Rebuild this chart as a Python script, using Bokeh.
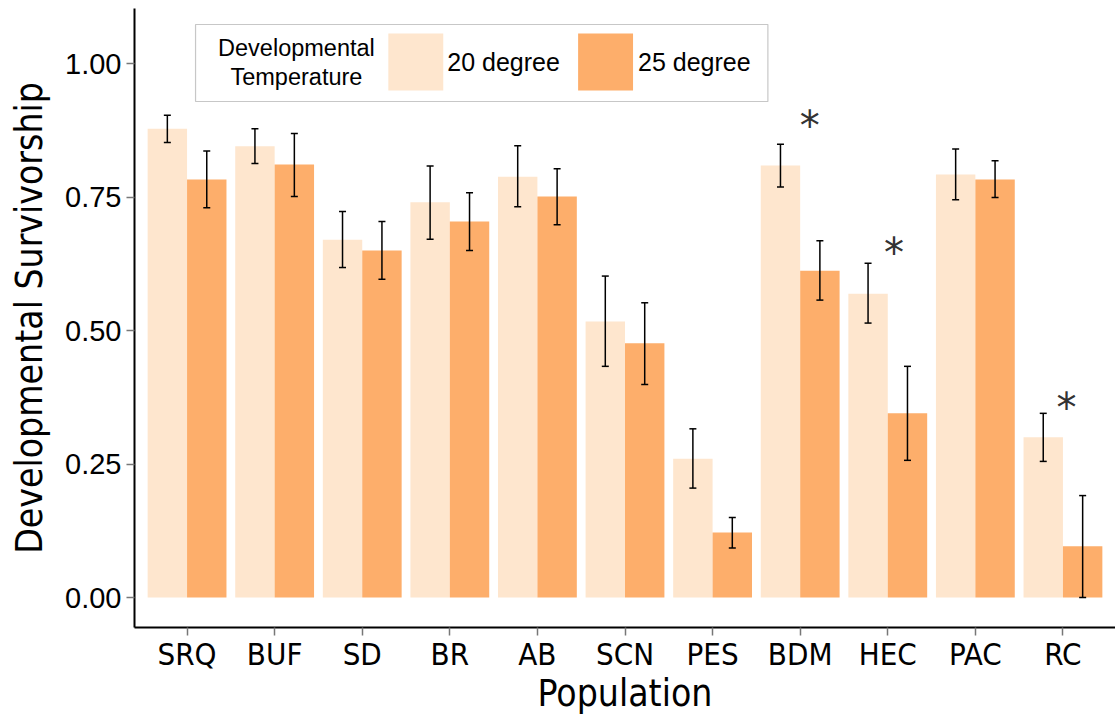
from bokeh.plotting import figure
from bokeh.models import Range1d, FixedTicker, ColumnDataSource, Label, BoxAnnotation
from bokeh.core.properties import value
from bokeh.embed import file_html
from bokeh.resources import INLINE
import numpy as np

populations = ["SRQ", "BUF", "SD", "BR", "AB", "SCN", "PES", "BDM", "HEC", "PAC", "RC"]
surv_20 = [0.878, 0.845, 0.670, 0.740, 0.788, 0.517, 0.260, 0.809, 0.569, 0.792, 0.300]
upper_20 = [0.903, 0.878, 0.723, 0.808, 0.846, 0.602, 0.316, 0.849, 0.626, 0.840, 0.345]
lower_20 = [0.852, 0.813, 0.618, 0.671, 0.732, 0.433, 0.205, 0.769, 0.514, 0.745, 0.255]
surv_25 = [0.783, 0.811, 0.650, 0.704, 0.751, 0.476, 0.122, 0.612, 0.345, 0.783, 0.096]
upper_25 = [0.836, 0.869, 0.704, 0.758, 0.803, 0.552, 0.150, 0.668, 0.433, 0.818, 0.191]
lower_25 = [0.730, 0.751, 0.596, 0.650, 0.698, 0.399, 0.093, 0.557, 0.257, 0.749, 0.000]
sig_pos = [8.11, 9.07, 11.04]
sig_y = [0.897, 0.659, 0.369]
y_ticks = [0.0, 0.25, 0.5, 0.75, 1.0]
y_tick_labels = ["0.00", "0.25", "0.50", "0.75", "1.00"]
series_labels = ["20 degree", "25 degree"]
legend_title = ["Developmental", "Temperature"]
x_title = "Population"
y_title = "Developmental Survivorship"

COL20 = "#FEE6CE"
COL25 = "#FDAE6B"
COND = "'Liberation Sans Narrow', 'DejaVu Sans Condensed', sans-serif"

idx = np.arange(1, len(populations) + 1)
src20 = ColumnDataSource(dict(x=idx - 0.225, top=surv_20, up=upper_20, lo=lower_20))
src25 = ColumnDataSource(dict(x=idx + 0.225, top=surv_25, up=upper_25, lo=lower_25))

p = figure(width=1115, height=721, output_backend="svg", toolbar_location=None,
           x_range=Range1d(0.4, 11.6), y_range=Range1d(-0.056, 1.103),
           min_border_left=134, min_border_right=0, min_border_top=8, min_border_bottom=94)
p.outline_line_color = None
p.xgrid.grid_line_color = None
p.ygrid.grid_line_color = None
p.background_fill_color = "white"
p.border_fill_color = "white"

p.vbar(x="x", top="top", width=0.45, bottom=0, source=src20, fill_color=COL20, line_color=None)
p.vbar(x="x", top="top", width=0.45, bottom=0, source=src25, fill_color=COL25, line_color=None)

for s in (src20, src25):
    p.segment(x0="x", x1="x", y0="lo", y1="up", source=s, line_color="black", line_width=1.5)
    p.scatter(x="x", y="up", source=s, marker="dash", size=7, line_color="black", line_width=1.5)
    p.scatter(x="x", y="lo", source=s, marker="dash", size=7, line_color="black", line_width=1.5)

p.text(x=sig_pos, y=sig_y, text=["*"] * len(sig_pos), y_offset=7, text_align="center",
       text_baseline="middle", text_font=value("DejaVu Sans"), text_font_size="40px",
       text_color="#333333")

# axes
p.xaxis.ticker = FixedTicker(ticks=list(idx))
p.xaxis.major_label_overrides = {int(i): n for i, n in zip(idx, populations)}
p.yaxis.ticker = FixedTicker(ticks=y_ticks)
p.yaxis.major_label_overrides = {t: l for t, l in zip(y_ticks, y_tick_labels)}
for ax in (p.xaxis, p.yaxis):
    ax.axis_line_color = "black"
    ax.axis_line_width = 2
    ax.major_tick_line_color = "#777777"
    ax.major_tick_line_width = 1.5
    ax.major_tick_out = 8
    ax.major_tick_in = 0
    ax.minor_tick_line_color = None
    ax.major_label_text_color = "black"
    ax.axis_label_text_color = "black"
    ax.axis_label_text_font_style = "normal"

p.xaxis.major_label_text_font = COND
p.xaxis.major_label_text_font_size = "31px"
p.xaxis.major_label_standoff = 0
p.xaxis.axis_label = x_title
p.xaxis.axis_label_text_font = COND
p.xaxis.axis_label_text_font_size = "37px"
p.xaxis.axis_label_standoff = -3

p.yaxis.major_label_text_font = "Liberation Sans"
p.yaxis.major_label_text_font_size = "29px"
p.yaxis.major_label_standoff = 5
p.yaxis.axis_label = y_title
p.yaxis.axis_label_text_font = COND
p.yaxis.axis_label_text_font_size = "37px"
p.yaxis.axis_label_standoff = 11

def px2x(px):
    return 1 + (px - 186.5) / 87.69

def px2y(py):
    return (597 - py) / 534

# legend (manual, inside plot)
p.add_layout(BoxAnnotation(left=px2x(195), right=px2x(768), top=px2y(24), bottom=px2y(101),
                           fill_color="white", fill_alpha=1, line_color="#444444", line_width=1.2))
p.add_layout(BoxAnnotation(left=px2x(388), right=px2x(443), top=px2y(33), bottom=px2y(90),
                           fill_color=COL20, fill_alpha=1, line_color=None))
p.add_layout(BoxAnnotation(left=px2x(578), right=px2x(633), top=px2y(33), bottom=px2y(90),
                           fill_color=COL25, fill_alpha=1, line_color=None))
for txt, py in zip(legend_title, (47, 76)):
    p.add_layout(Label(x=px2x(296), y=px2y(py), text=txt, text_align="center", text_baseline="middle",
                       text_font="Liberation Sans", text_font_size="23.5px", text_color="black"))
for txt, pxl in zip(series_labels, (447, 638)):
    p.add_layout(Label(x=px2x(pxl), y=px2y(61), text=txt, text_align="left", text_baseline="middle",
                       text_font="Liberation Sans", text_font_size="25px", text_color="black"))

open("out.html", "w").write(file_html(p, INLINE))
